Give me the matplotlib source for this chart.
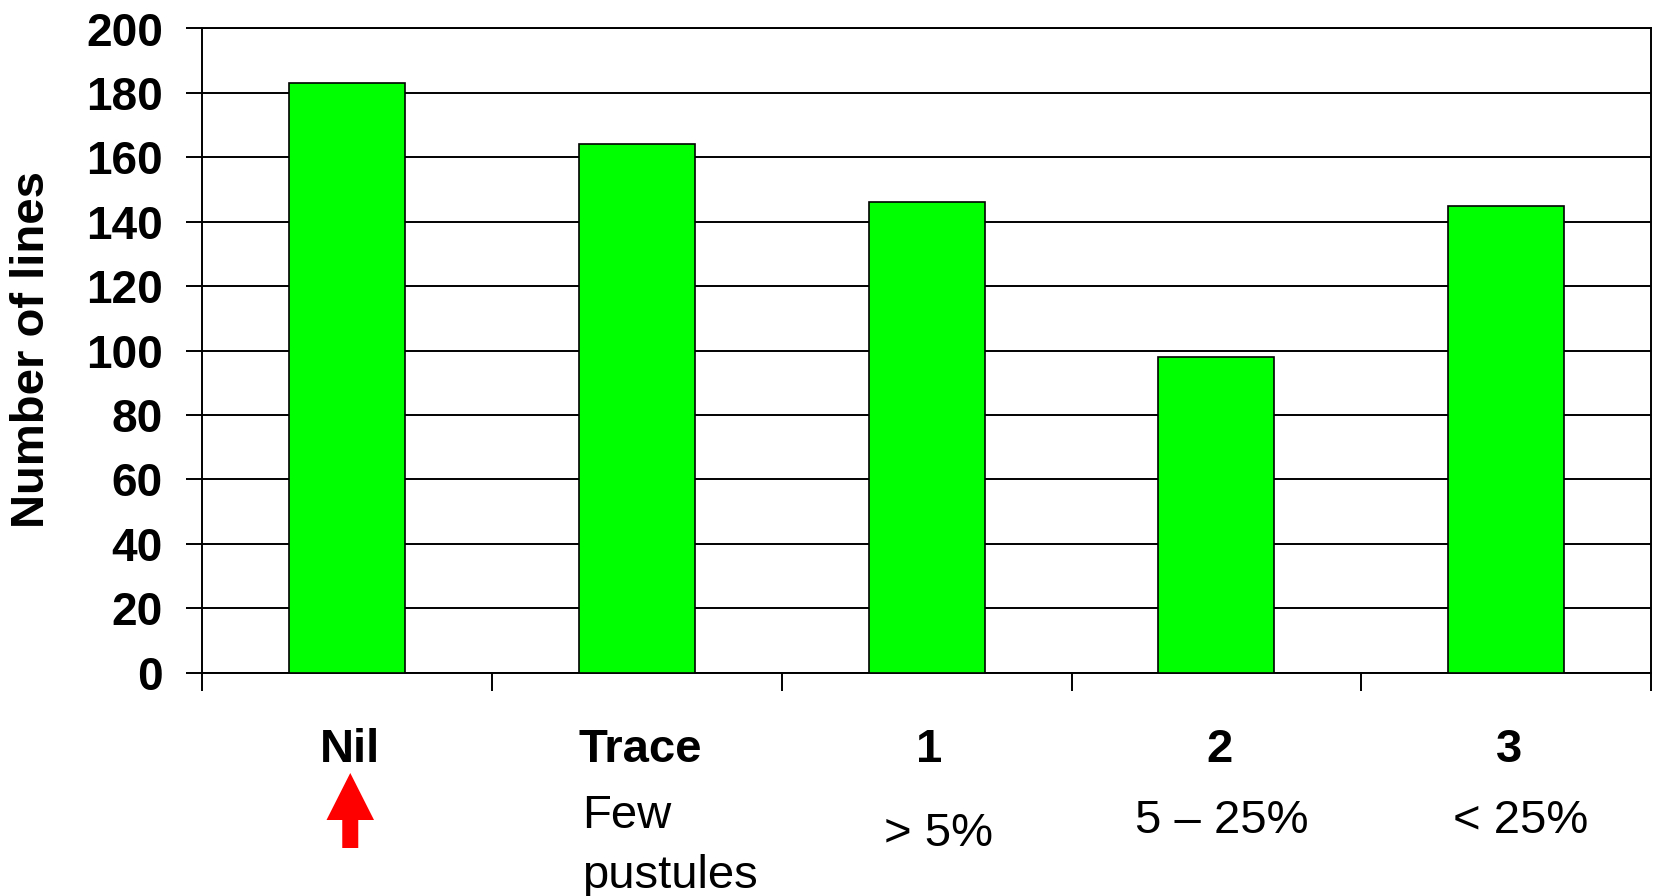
import matplotlib
matplotlib.use("Agg")
import matplotlib.pyplot as plt
import matplotlib.patches as mpatches
import matplotlib.transforms as mtransforms
import numpy as np

plt.rcParams['font.family'] = ['Liberation Sans', 'DejaVu Sans']

# Rust severity classes and number of lines in each
categories = ["Nil", "Trace", "1", "2", "3"]
descriptions = ["", "Few\npustules", "> 5%", "5 \u2013 25%", "< 25%"]
num_lines = [183, 164, 146, 98, 145]
y_ticks = [0, 20, 40, 60, 80, 100, 120, 140, 160, 180, 200]

# description placement: (x offset from category centre, axes-fraction y, alignment)
desc_layout = [
    (0.0, -0.22, "center"),
    (-0.19, -0.269, "left"),
    (0.04, -0.25, "center"),
    (0.02, -0.23, "center"),
    (0.05, -0.23, "center"),
]

W, H, DPI = 1653, 896, 100
fig = plt.figure(figsize=(W / DPI, H / DPI), dpi=DPI)
ax = fig.add_axes([202.4 / W, 1 - 672.6 / H, (1651 - 202.4) / W, (672.6 - 28.5) / H])

x = np.arange(len(categories))
ax.bar(x, num_lines, width=0.4, color="#00FF00", edgecolor="black", linewidth=1.2, zorder=3)

ax.set_xlim(-0.5, len(categories) - 0.5)
ax.set_ylim(0, 200)
ax.set_yticks(y_ticks)
ax.set_yticklabels([str(v) for v in y_ticks], fontsize=33, fontweight="bold")
ax.yaxis.grid(True, color="black", linewidth=1.4)
ax.set_axisbelow(True)
ax.tick_params(axis="y", direction="out", length=11.5, width=1.4, pad=17)

# category boundaries as ticks below the axis
ax.set_xticks(np.arange(-0.5, len(categories), 1.0))
ax.set_xticklabels([])
ax.tick_params(axis="x", direction="out", length=13, width=1.4)

for s in ax.spines.values():
    s.set_color("black")
    s.set_linewidth(1.4)

fig.text(31.6 / W, 1 - 349 / H, "Number of lines", rotation=90, ha="center", va="center",
         fontsize=34, fontweight="bold")

trans = mtransforms.blended_transform_factory(ax.transData, ax.transAxes)
for i, name in enumerate(categories):
    ax.text(i + 0.01, -0.120, name, transform=trans, ha="center", va="center",
            fontsize=34, fontweight="bold", clip_on=False)
    desc = descriptions[i]
    if desc:
        dx, yy, ha = desc_layout[i]
        ax.text(i + dx, yy, desc, transform=trans, ha=ha, va="center",
                fontsize=34, linespacing=1.45, clip_on=False)

# red arrow pointing at the resistant class
fig.canvas.draw()
ax_x, _ = trans.transform((0, 0))
tip_y = H - 773
base_y = H - 848
arrow = mpatches.FancyArrow(ax_x + 3, base_y, 0, tip_y - base_y, width=16,
                            head_width=47.5, head_length=47,
                            length_includes_head=True, color="red",
                            linewidth=0, transform=mtransforms.IdentityTransform())
fig.add_artist(arrow)

fig.savefig("out.png", dpi=DPI)
